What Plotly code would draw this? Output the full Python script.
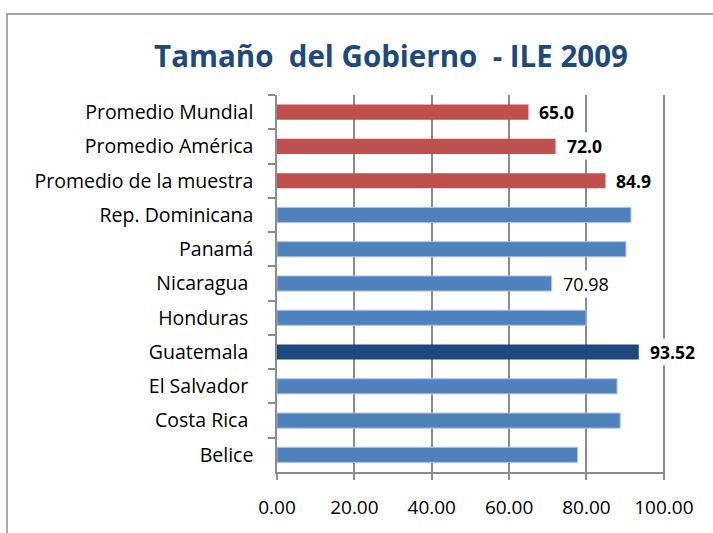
import plotly.graph_objects as go

categories = ["Promedio Mundial", "Promedio América", "Promedio de la muestra",
              "Rep. Dominicana", "Panamá", "Nicaragua ", "Honduras ",
              "Guatemala ", "El Salvador ", "Costa Rica ", "Belice"]
values = [65.0, 72.0, 84.9, 91.5, 90.2, 70.98, 79.9, 93.52, 87.9, 88.7, 77.7]
labels = ["65.0", "72.0", "84.9", "", "", "70.98", "", "93.52", "", "", ""]
label_bold = [True, True, True, False, False, False, False, True, False, False, False]
tick_vals = [0, 20, 40, 60, 80, 100]
tick_text = ["0.00", "20.00", "40.00", "60.00", "80.00", "100.00"]

RED = "#C0504D"
BLUE = "#4F81BD"
DARK = "#1F497D"
colors = [RED, RED, RED, BLUE, BLUE, BLUE, BLUE, DARK, BLUE, BLUE, BLUE]
outlines = ["rgba(0,0,0,0)"] * 3 + ["#A9C4E4"] * 4 + ["rgba(0,0,0,0)"] + ["#A9C4E4"] * 3

fig = go.Figure()
fig.add_trace(go.Bar(
    x=values, y=categories, orientation="h",
    marker=dict(color=colors, line=dict(color=outlines, width=1)),
    hoverinfo="skip",
))

for c, v, t, b in zip(categories, values, labels, label_bold):
    if t:
        fig.add_annotation(
            x=v, y=c, xref="x", yref="y", text=f"<b>{t}</b>" if b else t,
            showarrow=False, xanchor="left", xshift=9, bgcolor="white",
            font=dict(family="Open Sans", size=17.5 if b else 18, color="#000000"),
        )

fig.update_layout(
    width=713, height=533,
    margin=dict(l=277, r=48, t=95, b=61, autoexpand=False),
    paper_bgcolor="white", plot_bgcolor="white",
    showlegend=False,
    bargap=0.56,
    title=dict(text="<b>Tamaño  del Gobierno  - ILE 2009</b>",
               x=391 / 713, xanchor="center", y=1 - 57 / 533, yanchor="middle",
               font=dict(family="Open Sans", size=29.5, color="#1F497D")),
    xaxis=dict(range=[0, 100.3], tickvals=tick_vals, ticktext=tick_text,
               showgrid=True, gridcolor="#8C8C8C", gridwidth=1.5,
               showline=True, linecolor="#8C8C8C", linewidth=1.5,
               ticks="outside", ticklen=6, tickcolor="#8C8C8C", tickwidth=1.5,
               ticklabelstandoff=11, automargin=False,
               tickfont=dict(family="Open Sans", size=19, color="#000000"),
               zeroline=False, fixedrange=True),
    yaxis=dict(autorange="reversed", showline=True, linecolor="#8C8C8C", linewidth=1.5,
               ticks="outside", ticklen=7, tickcolor="#8C8C8C", tickwidth=1.5,
               tickson="boundaries", ticklabelstandoff=18, automargin=False,
               tickfont=dict(family="Open Sans", size=19.5, color="#000000"),
               showgrid=False, fixedrange=True),
)

# chart border
fig.add_shape(type="rect", xref="paper", yref="paper",
              x0=(7 - 277) / 388, x1=1.3, y0=-0.3, y1=(472 - 14) / 377,
              line=dict(color="#8C8C8C", width=1.5), fillcolor="rgba(0,0,0,0)", layer="below")

fig.write_html("out.html", post_script="document.body.style.margin='0';",
               config={"displayModeBar": False})
